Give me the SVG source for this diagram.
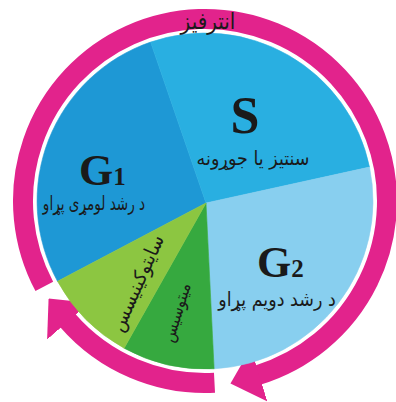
<svg xmlns="http://www.w3.org/2000/svg" width="396" height="402" viewBox="0 0 396 402">
<defs>
<style>
.ps{font-family:"DejaVu Sans","Noto Sans",sans-serif;fill:#1a1a1a;text-anchor:middle;}
.big{font-family:"Liberation Serif","Times New Roman",serif;font-weight:bold;fill:#1a1a1a;}
.arc{fill:none;stroke:#e2238c;stroke-width:20;stroke-linecap:butt;}
.slice{stroke-width:0.6;}
</style>
<marker id="head" markerUnits="userSpaceOnUse" viewBox="0 0 30 56" refX="1" refY="28" markerWidth="30" markerHeight="56" orient="auto">
<path d="M0,0 L30,28 L0,56 Z" fill="#e2238c"/>
</marker>
</defs>
<rect width="396" height="402" fill="#ffffff"/>
<g id="connectors">
<path class="arc" d="M44.3,286.4 A182,182 0 1 1 258.2,375.0" marker-end="url(#head)"/>
<path class="arc" d="M214.5,382.8 A182,182 0 0 1 67.6,320.4" marker-end="url(#head)"/>
</g>
<g id="G1">
<path class="slice" d="M206,203 L57.5,281.3 A168,168 0 0 1 150.6,42.1 Z" fill="#1e98d5" stroke="#1e98d5"/>
<text class="big" x="79" y="185" font-size="44">G<tspan font-size="25">1</tspan></text>
<text class="ps" transform="translate(94,210) scale(0.8,1.15)" x="0" y="0" font-size="17">د رشد لومړی پړاو</text>
</g>
<g id="S">
<path class="slice" d="M206,203 L150.6,42.1 A168,168 0 0 1 369.5,167.1 Z" fill="#29afe1" stroke="#29afe1"/>
<text class="big" x="245" y="133" font-size="52" text-anchor="middle">S</text>
<text class="ps" transform="translate(253,165) scale(1.03,1.15)" x="0" y="0" font-size="17">سنتیز یا جوړونه</text>
</g>
<g id="G2">
<path class="slice" d="M206,203 L369.5,167.1 A168,168 0 0 1 214.1,368.8 Z" fill="#88cfef" stroke="#88cfef"/>
<text class="big" x="257" y="277" font-size="44">G<tspan font-size="25">2</tspan></text>
<text class="ps" transform="translate(277,306) scale(1.03,1.15)" x="0" y="0" font-size="17">د رشد دویم پړاو</text>
</g>
<g id="mitosis">
<path class="slice" d="M206,203 L214.1,368.8 A168,168 0 0 1 124.1,348.2 Z" fill="#36a93f" stroke="#36a93f"/>
<text class="ps" transform="translate(176.5,312.5) rotate(-73) scale(1,1.15)" x="0" y="5" font-size="15">میتوسیس</text>
</g>
<g id="cytokinesis">
<path class="slice" d="M206,203 L124.1,348.2 A168,168 0 0 1 57.5,281.3 Z" fill="#8cc641" stroke="#8cc641"/>
<text class="ps" transform="translate(137,283) rotate(-66) scale(1.05,1.15)" x="0" y="6" font-size="17">سایتوکینیسس</text>
</g>
<g id="interphase">
<text class="ps" transform="translate(208,29) scale(1,1.15)" x="0" y="0" font-size="20">انترفیز</text>
</g>
</svg>
